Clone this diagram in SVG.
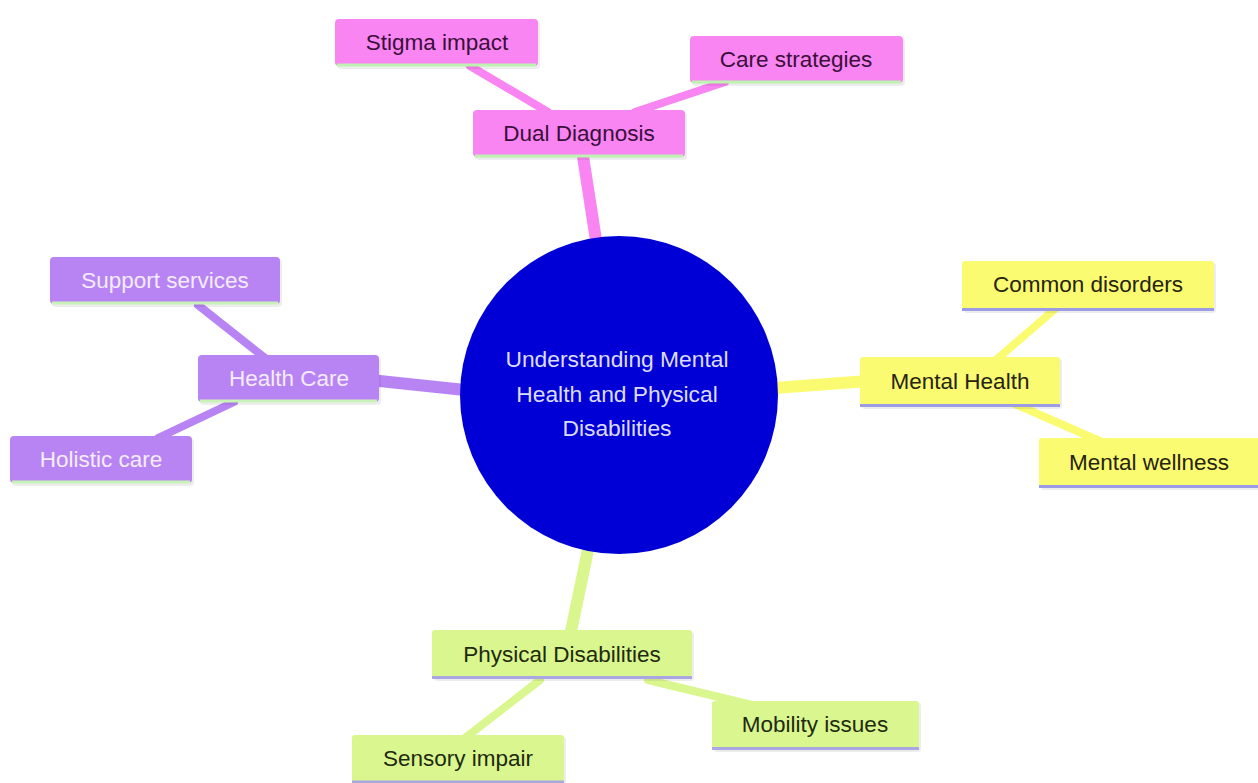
<svg xmlns="http://www.w3.org/2000/svg" width="1258" height="783" viewBox="0 0 1258 783">
<style>
text{font-family:"Liberation Sans",Arial,sans-serif;font-size:22.5px;text-anchor:middle;dominant-baseline:central}
.pk rect.b{fill:#f985f2}.pk text{fill:#3a0f3a}.pk line{stroke:#bdf2b0}
.pu rect.b{fill:#b884f4}.pu text{fill:#f4ecff}.pu line{stroke:#c9f2b8}
.ye rect.b{fill:#fbfb72}.ye text{fill:#262410}.ye line{stroke:#9c9ce6}
.gr rect.b{fill:#d9f78e}.gr text{fill:#1f2a10}.gr line{stroke:#aaa6e2}
rect.s{fill:#000;opacity:0.07}
.node line{stroke-width:3}
.c{fill:none;stroke-linecap:round}
.m{stroke-width:12}.k{stroke-width:8}
#center text{font-size:22.8px}
</style>
<rect width="1258" height="783" fill="#fff"/>
<g id="connectors">
<line class="c m" x1="596" y1="240" x2="582" y2="150" stroke="#f985f2"/>
<line class="c k" x1="548" y1="112" x2="470" y2="66" stroke="#f985f2"/>
<line class="c k" x1="635" y1="112" x2="725" y2="82" stroke="#f985f2"/>
<line class="c m" x1="465" y1="390" x2="370" y2="380" stroke="#b884f4"/>
<line class="c k" x1="265" y1="358" x2="198" y2="305" stroke="#b884f4"/>
<line class="c k" x1="234" y1="402" x2="158" y2="438" stroke="#b884f4"/>
<line class="c m" x1="775" y1="388" x2="868" y2="381" stroke="#fbfb72"/>
<line class="c k" x1="996" y1="360" x2="1055" y2="309" stroke="#fbfb72"/>
<line class="c k" x1="1015" y1="404" x2="1102" y2="442" stroke="#fbfb72"/>
<line class="c m" x1="588" y1="550" x2="570" y2="636" stroke="#d9f78e"/>
<line class="c k" x1="540" y1="680" x2="465" y2="738" stroke="#d9f78e"/>
<line class="c k" x1="648" y1="680" x2="752" y2="705" stroke="#d9f78e"/>
</g>
<g id="center">
<circle cx="619" cy="395" r="159" fill="#0000d6"/>
<text x="617" y="359" fill="#dcdcff">Understanding Mental</text>
<text x="617" y="394" fill="#dcdcff">Health and Physical</text>
<text x="617" y="428" fill="#dcdcff">Disabilities</text>
</g>
<g id="dual-diagnosis" class="node pk"><rect class="s" x="475" y="112" width="212" height="48" rx="4"/><rect class="b" x="473" y="110" width="212" height="47" rx="4"/><line x1="475" y1="156" x2="683" y2="156"/><text x="579" y="133">Dual Diagnosis</text></g>
<g id="stigma-impact" class="node pk"><rect class="s" x="337" y="21" width="203" height="48" rx="4"/><rect class="b" x="335" y="19" width="203" height="47" rx="4"/><line x1="337" y1="65" x2="536" y2="65"/><text x="437" y="42">Stigma impact</text></g>
<g id="care-strategies" class="node pk"><rect class="s" x="692" y="38" width="213" height="48" rx="4"/><rect class="b" x="690" y="36" width="213" height="47" rx="4"/><line x1="692" y1="82" x2="901" y2="82"/><text x="796" y="59">Care strategies</text></g>
<g id="health-care" class="node pu"><rect class="s" x="200" y="357" width="181" height="48" rx="4"/><rect class="b" x="198" y="355" width="181" height="47" rx="4"/><line x1="200" y1="401" x2="377" y2="401"/><text x="289" y="378">Health Care</text></g>
<g id="support-services" class="node pu"><rect class="s" x="52" y="259" width="230" height="48" rx="4"/><rect class="b" x="50" y="257" width="230" height="47" rx="4"/><line x1="52" y1="303" x2="278" y2="303"/><text x="165" y="280">Support services</text></g>
<g id="holistic-care" class="node pu"><rect class="s" x="12" y="438" width="182" height="48" rx="4"/><rect class="b" x="10" y="436" width="182" height="47" rx="4"/><line x1="12" y1="482" x2="190" y2="482"/><text x="101" y="459">Holistic care</text></g>
<g id="mental-health" class="node ye"><rect class="s" x="862" y="359" width="200" height="50" rx="3"/><rect class="b" x="860" y="357" width="200" height="49" rx="3"/><line x1="860" y1="405.5" x2="1060" y2="405.5"/><text x="960" y="381">Mental Health</text></g>
<g id="common-disorders" class="node ye"><rect class="s" x="964" y="263" width="252" height="50" rx="3"/><rect class="b" x="962" y="261" width="252" height="49" rx="3"/><line x1="962" y1="309.5" x2="1214" y2="309.5"/><text x="1088" y="284">Common disorders</text></g>
<g id="mental-wellness" class="node ye"><rect class="s" x="1041" y="440" width="219" height="50" rx="3"/><rect class="b" x="1039" y="438" width="221" height="49" rx="3"/><line x1="1039" y1="486.5" x2="1258" y2="486.5"/><text x="1149" y="462">Mental wellness</text></g>
<g id="physical-disabilities" class="node gr"><rect class="s" x="434" y="632" width="260" height="49" rx="3"/><rect class="b" x="432" y="630" width="260" height="48" rx="3"/><line x1="432" y1="677.5" x2="692" y2="677.5"/><text x="562" y="654">Physical Disabilities</text></g>
<g id="mobility-issues" class="node gr"><rect class="s" x="714" y="703" width="207" height="49" rx="3"/><rect class="b" x="712" y="701" width="207" height="48" rx="3"/><line x1="712" y1="748.5" x2="919" y2="748.5"/><text x="815" y="724">Mobility issues</text></g>
<g id="sensory-impair" class="node gr"><rect class="s" x="354" y="737" width="212" height="49" rx="3"/><rect class="b" x="352" y="735" width="212" height="48" rx="3"/><line x1="352" y1="782" x2="564" y2="782"/><text x="458" y="758">Sensory impair</text></g>
</svg>
